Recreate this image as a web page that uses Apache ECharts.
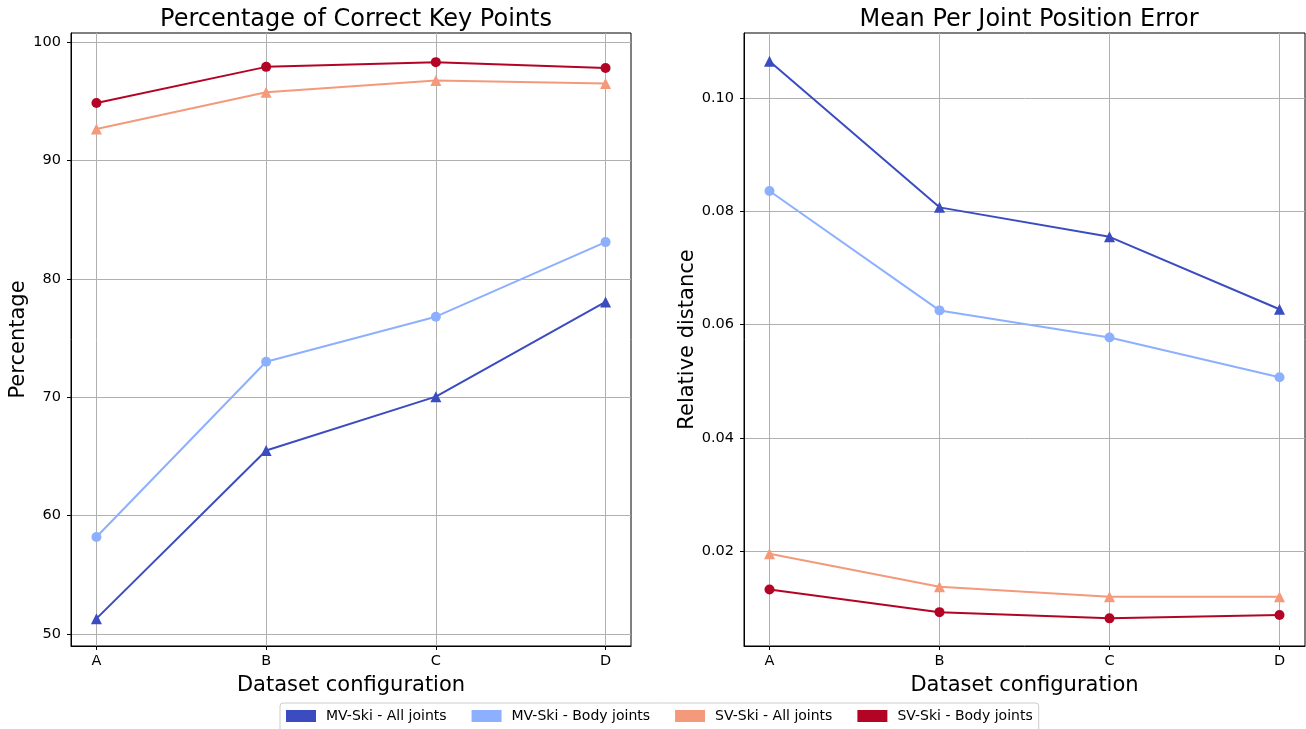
<!DOCTYPE html>
<html>
<head>
<meta charset="utf-8">
<script src="https://cdn.jsdelivr.net/npm/echarts@6/dist/echarts.min.js"></script>
<style>
  html, body { margin: 0; padding: 0; background: #fff; }
  #chart { width: 1306px; height: 729px; }
</style>
</head>
<body>
<div id="chart"></div>
<script>
// Dataset configurations on the x axis
const categories = ['A', 'B', 'C', 'D'];

// Percentage of Correct Key Points
const pckMvAll = [51.3, 65.5, 70.05, 78.05];
const pckMvBody = [58.2, 73.0, 76.8, 83.1];
const pckSvAll = [92.65, 95.75, 96.75, 96.5];
const pckSvBody = [94.85, 97.9, 98.3, 97.8];

// Mean Per Joint Position Error (relative distance)
const mpjpeMvAll = [0.1065, 0.0807, 0.0755, 0.0627];
const mpjpeMvBody = [0.0836, 0.0625, 0.0577, 0.0507];
const mpjpeSvAll = [0.0195, 0.0137, 0.0119, 0.0119];
const mpjpeSvBody = [0.0132, 0.0092, 0.0081, 0.0087];

// Tick values
const pckTicks = [50, 60, 70, 80, 90, 100];
const mpjpeTicks = [0.02, 0.04, 0.06, 0.08, 0.10];
const xTicks = [0, 1, 2, 3];

const seriesNames = ['MV-Ski - All joints', 'MV-Ski - Body joints', 'SV-Ski - All joints', 'SV-Ski - Body joints'];
const colors = ['#3b4cc0', '#8db0fe', '#f49a7b', '#b40426'];
const symbols = ['triangle', 'circle', 'triangle', 'circle'];

const FONT = 'DejaVu Sans';
const gridLine = { show: true, lineStyle: { color: '#b0b0b0', width: 1 } };

function xAxis(gridIndex) {
  return {
    type: 'value', gridIndex, min: -0.15, max: 3.15,
    name: 'Dataset configuration', nameLocation: 'middle', nameGap: 29,
    nameTextStyle: { fontFamily: FONT, fontSize: 21, color: '#000' },
    axisLine: { show: true, onZero: false, lineStyle: { color: '#000', width: 1 } },
    axisTick: { show: true, inside: false, length: 4, lineStyle: { color: '#000' }, customValues: xTicks },
    axisLabel: { fontFamily: FONT, fontSize: 14.5, color: '#000', margin: 8,
      customValues: xTicks, formatter: v => categories[Math.round(v)] },
    splitLine: gridLine
  };
}

function yAxis(gridIndex, name, min, max, ticks, fmt, gap) {
  return {
    type: 'value', gridIndex, min, max,
    name, nameLocation: 'middle', nameGap: gap,
    nameTextStyle: { fontFamily: FONT, fontSize: 21, color: '#000' },
    axisLine: { show: true, onZero: false, lineStyle: { color: '#000', width: 1 } },
    axisTick: { show: true, inside: false, length: 4, lineStyle: { color: '#000' }, customValues: ticks },
    axisLabel: { fontFamily: FONT, fontSize: 14.5, color: '#000', margin: 10,
      customValues: ticks, formatter: fmt },
    splitLine: gridLine
  };
}

function lineSeries(i, values, axisIndex) {
  return {
    type: 'line', name: seriesNames[i],
    xAxisIndex: axisIndex, yAxisIndex: axisIndex,
    data: values.map((v, k) => [k, v]),
    symbol: symbols[i], symbolSize: symbols[i] === 'triangle' ? 11 : 10,
    showSymbol: true,
    itemStyle: { color: colors[i] },
    lineStyle: { color: colors[i], width: 2 },
    emphasis: { disabled: true },
    animation: false
  };
}

const chart = echarts.init(document.getElementById('chart'), null, { renderer: 'canvas' });
chart.setOption({
  backgroundColor: '#fff',
  animation: false,
  color: colors,
  title: [
    { text: 'Percentage of Correct Key Points', left: 351, top: 3, textAlign: 'center',
      textStyle: { fontFamily: FONT, fontSize: 24, fontWeight: 'normal', color: '#000' } },
    { text: 'Mean Per Joint Position Error', left: 1024, top: 3, textAlign: 'center',
      textStyle: { fontFamily: FONT, fontSize: 24, fontWeight: 'normal', color: '#000' } }
  ],
  legend: {
    data: seriesNames,
    bottom: -4, left: 280,
    icon: 'rect', itemWidth: 30, itemHeight: 12, itemGap: 25,
    padding: [6, 6, 10, 6],
    borderColor: '#cccccc', borderWidth: 1, borderRadius: 3,
    textStyle: { fontFamily: FONT, fontSize: 14, color: '#000', padding: [0, 0, 0, 5] }
  },
  grid: [
    { left: 71, top: 33, width: 560, height: 613, show: true, borderColor: '#000', borderWidth: 1, backgroundColor: 'transparent' },
    { left: 744, top: 33, width: 561, height: 613, show: true, borderColor: '#000', borderWidth: 1, backgroundColor: 'transparent' }
  ],
  xAxis: [xAxis(0), xAxis(1)],
  yAxis: [
    yAxis(0, 'Percentage', 48.99, 100.76, pckTicks, v => String(Math.round(v)), 42),
    yAxis(1, 'Relative distance', 0.00322, 0.1115, mpjpeTicks, v => v.toFixed(2), 45)
  ],
  series: [
    lineSeries(0, pckMvAll, 0),
    lineSeries(1, pckMvBody, 0),
    lineSeries(2, pckSvAll, 0),
    lineSeries(3, pckSvBody, 0),
    lineSeries(0, mpjpeMvAll, 1),
    lineSeries(1, mpjpeMvBody, 1),
    lineSeries(2, mpjpeSvAll, 1),
    lineSeries(3, mpjpeSvBody, 1)
  ]
});
</script>
</body>
</html>
